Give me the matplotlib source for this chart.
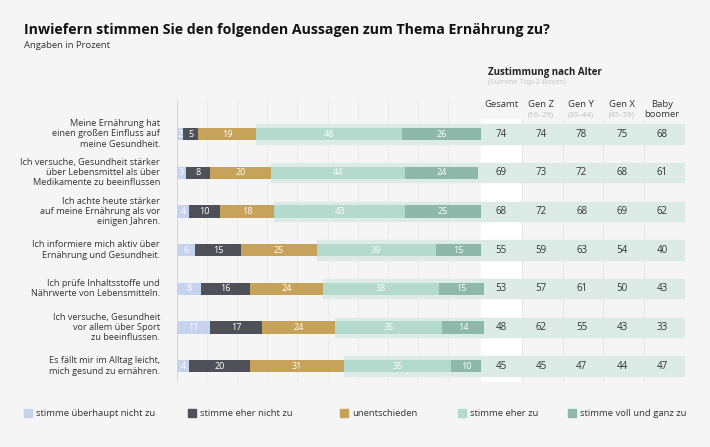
import matplotlib.pyplot as plt
import numpy as np
from matplotlib.patches import Rectangle

plt.rcParams['font.family'] = ['Open Sans', 'DejaVu Sans']

statements = ["Meine Ernährung hat\neinen großen Einfluss auf\nmeine Gesundheit.",
              "Ich versuche, Gesundheit stärker\nüber Lebensmittel als über\nMedikamente zu beeinflussen",
              "Ich achte heute stärker\nauf meine Ernährung als vor\neinigen Jahren.",
              "Ich informiere mich aktiv über\nErnährung und Gesundheit.",
              "Ich prüfe Inhaltsstoffe und\nNährwerte von Lebensmitteln.",
              "Ich versuche, Gesundheit\nvor allem über Sport\nzu beeinflussen.",
              "Es fällt mir im Alltag leicht,\nmich gesund zu ernähren."]
s1 = [2, 3, 4, 6, 8, 11, 4]
s2 = [5, 8, 10, 15, 16, 17, 20]
s3 = [19, 20, 18, 25, 24, 24, 31]
s4 = [48, 44, 43, 39, 38, 35, 35]
s5 = [26, 24, 25, 15, 15, 14, 10]
legend_labels = ["stimme überhaupt nicht zu", "stimme eher nicht zu", "unentschieden",
                 "stimme eher zu", "stimme voll und ganz zu"]
colors = ['#c6d3ee', '#4e5258', '#c7a25a', '#b4d9cd', '#8db8aa']
col_heads = ["Gesamt", "Gen Z", "Gen Y", "Gen X", "Baby\nboomer"]
col_sub = ["", "(16–29)", "(30–44)", "(45–59)", ""]
gesamt = [74, 69, 68, 55, 53, 48, 45]
genz = [74, 73, 72, 59, 57, 62, 45]
geny = [78, 72, 68, 63, 61, 55, 47]
genx = [75, 68, 69, 54, 50, 43, 44]
boomer = [68, 61, 62, 40, 43, 33, 47]

bg = '#f5f5f5'
fig = plt.figure(figsize=(7.10, 4.47), dpi=100, facecolor=bg)
W, H = 710, 447
ax = fig.add_axes([177/W, 1-382/H, (685-177)/W, (382-100)/H])
ax.set_facecolor(bg)
ax.set_xlim(0, 167)
ax.set_ylim(6.41, -0.88)
ax.axis('off')

for gx in np.arange(10, 100, 10):
    ax.axvline(gx*0.99, color='#ebebeb', lw=0.8, zorder=0)
ax.axvline(0, color='#cfcfcf', lw=1.2, zorder=3)
ax.add_patch(Rectangle((100, -0.4), 13.3, 6.81, color='white', zorder=0))
for sx in [113.3, 126.8, 140.2, 153.4]:
    ax.axvline(sx, ymax=0.93, color='#e6e6e6', lw=0.8, zorder=0)

segs = [s1, s2, s3, s4, s5]
for i in range(len(statements)):
    left = 0
    agree_start = s1[i] + s2[i] + s3[i]
    ax.add_patch(Rectangle((agree_start, i-0.25), 167-agree_start, 0.5, color='#dcebe6', zorder=1))
    for k, s in enumerate(segs):
        v = s[i]
        ax.barh(i, v, left=left, height=0.32, color=colors[k], zorder=2)
        ax.text(left + v/2, i, str(v), ha='center', va='center', color='white', fontsize=6.5, zorder=4)
        left += v
    for cx, vals in zip([106.6, 119.8, 133.0, 146.4, 159.5], [gesamt, genz, geny, genx, boomer]):
        ax.text(cx, i, str(vals[i]), ha='center', va='center', fontsize=7, color='#333333', zorder=4)
    fig.text(160/W, 1-(134 + i*38.67)/H, statements[i], ha='right', va='center',
             fontsize=6.6, color='#333333', linespacing=1.15)

for cx, h, sub in zip([501, 541, 581, 622, 662], col_heads, col_sub):
    fig.text(cx/W, 1-100/H, h, ha='center', va='top', fontsize=6.8, color='#333333', linespacing=1.15)
    if sub:
        fig.text(cx/W, 1-111/H, sub, ha='center', va='top', fontsize=5.5, color='#bbbbbb')

fig.text(488/W, 1-72/H, "Zustimmung nach Alter", fontsize=7, fontweight='bold', color='#222222', va='center')
fig.text(488/W, 1-83/H, "(Summe Top-2-Boxes)", fontsize=5.5, color='#c4c4c4', va='center')
fig.text(24/W, 1-30/H, "Inwiefern stimmen Sie den folgenden Aussagen zum Thema Ernährung zu?",
         fontsize=10.2, fontweight='bold', color='#111111', va='center')
fig.text(24/W, 1-46/H, "Angaben in Prozent", fontsize=6.8, color='#333333', va='center')

for lx, lab, c in zip([24, 188, 340, 458, 568], legend_labels, colors):
    fig.patches.append(Rectangle((lx/W, 1-417/H), 8/W, 8/H, color=c, transform=fig.transFigure))
    fig.text((lx+12)/W, 1-413/H, lab, fontsize=6.8, color='#333333', va='center')

fig.savefig('out.png', dpi=100, facecolor=bg)
